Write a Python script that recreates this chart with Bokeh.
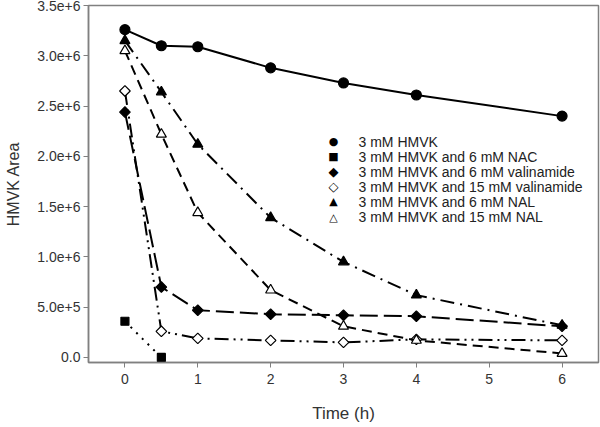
import math
from bokeh.plotting import figure
from bokeh.models import FixedTicker, CustomJSTickFormatter, Range1d, Label
from bokeh.embed import file_html
from bokeh.resources import INLINE

time_h = [0, 0.5, 1, 2, 3, 4, 6]
hmvk = [3.26e6, 3.10e6, 3.09e6, 2.88e6, 2.73e6, 2.61e6, 2.40e6]
nac_time = [0, 0.5]
nac6 = [0.36e6, 0.0]
val6 = [2.44e6, 0.70e6, 0.47e6, 0.43e6, 0.42e6, 0.41e6, 0.31e6]
val15 = [2.65e6, 0.26e6, 0.19e6, 0.17e6, 0.15e6, 0.18e6, 0.17e6]
nal6 = [3.15e6, 2.64e6, 2.12e6, 1.39e6, 0.95e6, 0.62e6, 0.32e6]
nal15 = [3.05e6, 2.22e6, 1.44e6, 0.67e6, 0.31e6, 0.17e6, 0.04e6]

labels = ["3 mM HMVK", "3 mM HMVK and 6 mM NAC", "3 mM HMVK and 6 mM valinamide",
          "3 mM HMVK and 15 mM valinamide", "3 mM HMVK and 6 mM NAL", "3 mM HMVK and 15 mM NAL"]
legend_symbols = ["\u25CF", "\u25A0", "\u25C6", "\u25C7", "\u25B2", "\u25B3"]
legend_symbol_sizes = ["11px", "11px", "13px", "13px", "11px", "11px"]
x_ticks = [0, 1, 2, 3, 4, 5, 6]
y_ticks = [0, 5e5, 1e6, 1.5e6, 2e6, 2.5e6, 3e6, 3.5e6]

p = figure(width=600, height=427, output_backend="svg", toolbar_location=None,
           x_range=Range1d(-0.5, 6.5), y_range=Range1d(-0.05e6, 3.5e6),
           min_border_left=88, min_border_right=2, min_border_top=5, min_border_bottom=65)
p.xgrid.visible = False
p.ygrid.visible = False
p.outline_line_color = "#808080"
p.outline_line_width = 1.5

series = [
    (time_h, hmvk, "circle", "black", "solid", 10, 0),
    (nac_time, nac6, "square", "black", "2 6", 8, 0),
    (time_h, val6, "square", "black", "18 6", 7.5, math.pi / 4),
    (time_h, val15, "square", "white", "14 5 2 5 2 5", 7.5, math.pi / 4),
    (time_h, nal6, "triangle", "black", "14 6 2 6", 10, 0),
    (time_h, nal15, "triangle", "white", "10 6", 10, 0),
]
for xs, ys, mk, fill, dash, sz, ang in series:
    p.line(xs, ys, line_color="black", line_width=2, line_dash=dash)
    p.scatter(xs, ys, marker=mk, size=sz, angle=ang, fill_color=fill,
              line_color="black", line_width=1.2)

# legend (screen units relative to the plot frame, y measured from frame bottom)
leg_mark_x = 245
leg_text_x = 270
leg_top_y = 221
leg_row_h = 15.1
for i, (sym, fs, lab) in enumerate(zip(legend_symbols, legend_symbol_sizes, labels)):
    y = leg_top_y - i * leg_row_h
    p.add_layout(Label(x=leg_mark_x, y=y, x_units="screen", y_units="screen", text=sym,
                       text_align="center", text_baseline="middle", text_font="DejaVu Sans",
                       text_font_size=fs, text_color="black"))
    p.add_layout(Label(x=leg_text_x, y=y, x_units="screen", y_units="screen", text=lab,
                       text_align="left", text_baseline="middle", text_font="Liberation Sans",
                       text_font_size="14px", text_color="#222222"))

for ax in (p.xaxis[0], p.yaxis[0]):
    ax.axis_line_color = "#808080"
    ax.axis_line_width = 1.5
    ax.major_tick_line_color = "#808080"
    ax.major_tick_in = 0
    ax.major_tick_out = 5
    ax.minor_tick_line_color = None
    ax.major_label_text_font = "Liberation Sans"
    ax.major_label_text_font_size = "14px"
    ax.major_label_text_color = "#333333"
    ax.axis_label_text_font = "Liberation Sans"
    ax.axis_label_text_font_style = "normal"
    ax.axis_label_text_color = "#333333"

p.xaxis.axis_label_text_font_size = "17px"
p.yaxis.axis_label_text_font_size = "16px"
p.xaxis.ticker = FixedTicker(ticks=x_ticks)
p.yaxis.ticker = FixedTicker(ticks=y_ticks)
p.yaxis.formatter = CustomJSTickFormatter(code="return tick === 0 ? '0.0' : tick.toExponential(1);")
p.xaxis.axis_label = "Time (h)"
p.yaxis.axis_label = "HMVK Area"
p.xaxis.major_label_standoff = 6
p.yaxis.major_label_standoff = 3
p.xaxis.axis_label_standoff = 17
p.yaxis.axis_label_standoff = 12

open("out.html", "w").write(file_html(p, INLINE))
